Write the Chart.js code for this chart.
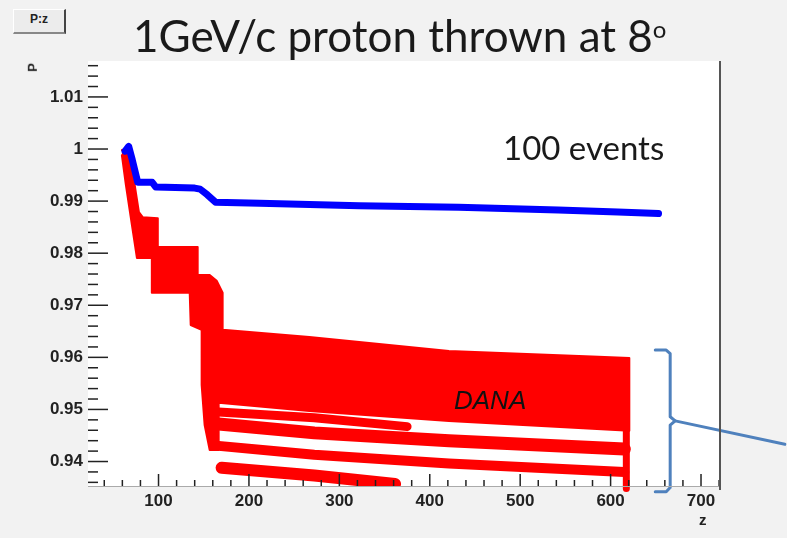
<!DOCTYPE html>
<html>
<head>
<meta charset="utf-8">
<script src="https://cdn.jsdelivr.net/npm/chart.js@4"></script>
<style>
  body { margin: 0; background: #f2f2f2; }
  #wrap { position: relative; width: 787px; height: 538px; overflow: hidden; }
  #c { position: absolute; left: 0; top: 0; }
  .lbl { position: absolute; white-space: nowrap; color: #222; }
  #pz { left: 13px; top: 9px; width: 50px; height: 22px; background: #ececec;
        border-top: 1px solid #fff; border-left: 1px solid #fff;
        border-right: 2px solid #444; border-bottom: 2px solid #888;
        font: bold 12px "Liberation Sans", sans-serif; text-align: center; line-height: 18px; }
  #title { left: 133px; top: 13px; font: 44px Lato, sans-serif; line-height: 44px; color: #1a1a1a; }
  #title span { font-size: 24px; position: relative; top: -14px; }
  #events { left: 503px; top: 131px; font: 33px Lato, sans-serif; line-height: 33px; color: #1a1a1a; }
  #dana { left: 454px; top: 387px; font: italic 26px "Liberation Sans", sans-serif; line-height: 26px; color: #111; }
  #ptitle { left: 28px; top: 60px; font: bold 13px "Liberation Sans", sans-serif; transform: rotate(-90deg); }
  #ztitle { left: 699px; top: 511px; font: bold 15px "Liberation Sans", sans-serif; }
</style>
</head>
<body>
<div id="wrap">
  <canvas id="c" width="787" height="538"></canvas>
  <div class="lbl" id="pz">P:z</div>
  <div class="lbl" id="title">1GeV/c proton thrown at 8<span>o</span></div>
  <div class="lbl" id="events">100 events</div>
  <div class="lbl" id="dana">DANA</div>
  <div class="lbl" id="ptitle">P</div>
  <div class="lbl" id="ztitle">z</div>
</div>
<script>
// ejes
const xTicks = [100, 200, 300, 400, 500, 600, 700];
const yTicks = [0.94, 0.95, 0.96, 0.97, 0.98, 0.99, 1.0, 1.01];
const yTickLabels = ['0.94', '0.95', '0.96', '0.97', '0.98', '0.99', '1', '1.01'];

// proton perdido por GEANT (azul)
const blueZ = [63, 67, 71, 77, 93, 97, 140, 146, 154, 163, 212, 322, 432, 542, 608, 653];
const blueP = [0.9996, 1.0005, 0.9979, 0.9936, 0.9936, 0.9927, 0.9925, 0.9923, 0.9912, 0.9898, 0.9896, 0.9891, 0.9888, 0.9883, 0.9879, 0.9876];

// banda DANA (contorno de las trazas superpuestas)
const bandZ = [59.5, 66.2, 72.8, 78.3, 82.7, 99.2, 99.2, 143.3, 143.3, 156.6, 164.3, 170.9, 170.9, 266.8, 421.2, 586.5, 620.7,
               620.7, 421.2, 266.8, 166.5, 166.5, 156.6, 151.0, 147.7, 147.7, 135.6, 134.5, 92.6, 92.6, 76.1, 70.6, 63.9, 59.5];
const bandP = [0.9998, 1.0000, 0.9940, 0.9879, 0.9869, 0.9867, 0.9812, 0.9812, 0.9758, 0.9758, 0.9747, 0.9724, 0.9653, 0.9639, 0.9612, 0.9601, 0.9599,
               0.9459, 0.9478, 0.9497, 0.9513, 0.9422, 0.9422, 0.9470, 0.9547, 0.9653, 0.9662, 0.9724, 0.9724, 0.9791, 0.9791, 0.9854, 0.9931, 0.9988];

// trazas DANA sueltas
const trackAZ = [166.5, 272.3, 374.9];
const trackAP = [0.9495, 0.9484, 0.9467];
const trackBZ = [166.5, 272.3, 421.2, 615.2];
const trackBP = [0.9472, 0.9455, 0.9440, 0.9424];
const trackCZ = [166.5, 272.3, 421.2, 615.2];
const trackCP = [0.9430, 0.9413, 0.9396, 0.9380];
const trackDZ = [169.8, 272.3, 361.6];
const trackDP = [0.9388, 0.9373, 0.9357];
const spikeZ = [617.4, 617.4];
const spikeP = [0.9470, 0.9348];

// corchete azul
const bracketZ = [649.4, 661.5, 665.9, 665.9, 671.4, 665.9, 665.9, 661.5, 649.4];
const bracketP = [0.9614, 0.9614, 0.9607, 0.9486, 0.9478, 0.9470, 0.9350, 0.9342, 0.9342];
const pointerZ = [671.4, 792.7];
const pointerP = [0.9478, 0.9433];

const pts = (zs, ps) => zs.map((z, i) => ({ x: z, y: ps[i] }));

const traza = (zs, ps, color, width, order, extra) => Object.assign({
    data: pts(zs, ps),
    showLine: true,
    borderColor: color,
    borderWidth: width,
    pointRadius: 0,
    borderCapStyle: 'round',
    borderJoinStyle: 'round',
    fill: false,
    order: order
}, extra || {});

const rojo = '#ff0000';
const azul = '#0000ff';
const azulCorchete = '#4f81bd';

const fondoBlanco = {
    id: 'fondoBlanco',
    beforeDraw(chart) {
        const { ctx, chartArea: a } = chart;
        ctx.save();
        ctx.fillStyle = '#ffffff';
        ctx.fillRect(a.left, a.top, a.right - a.left, a.bottom - a.top);
        ctx.restore();
    }
};

// marcas de eje estilo ROOT (hacia dentro)
const marcasRoot = {
    id: 'marcasRoot',
    afterDraw(chart) {
        const { ctx, chartArea: a, scales: { x, y } } = chart;
        ctx.save();
        ctx.strokeStyle = '#aaaaaa';
        ctx.lineWidth = 1;
        ctx.beginPath();
        ctx.moveTo(a.left, a.bottom + 0.5);
        ctx.lineTo(a.right, a.bottom + 0.5);
        ctx.stroke();

        ctx.strokeStyle = '#222';
        ctx.lineWidth = 1.5;
        for (let v = 40; v <= 720; v += 20) {
            const px = x.getPixelForValue(v);
            if (px < a.left || px > a.right) continue;
            const len = v % 100 === 0 ? 12 : 6;
            ctx.beginPath();
            ctx.moveTo(px, a.bottom);
            ctx.lineTo(px, a.bottom - len);
            ctx.stroke();
        }
        for (let i = 468; i <= 508; i++) {
            const py = y.getPixelForValue(i / 500);
            if (py < a.top || py > a.bottom) continue;
            const len = i % 5 === 0 ? 20 : 10;
            ctx.beginPath();
            ctx.moveTo(a.left, py);
            ctx.lineTo(a.left + len, py);
            ctx.stroke();
        }
        ctx.strokeStyle = '#555';
        ctx.lineWidth = 2;
        ctx.beginPath();
        ctx.moveTo(a.right, a.top);
        ctx.lineTo(a.right, a.bottom + 4);
        ctx.stroke();
        ctx.restore();
    }
};

const ctx = document.getElementById('c').getContext('2d');
new Chart(ctx, {
    type: 'scatter',
    data: {
        datasets: [
            traza(blueZ, blueP, azul, 7, 0),
            traza(bracketZ, bracketP, azulCorchete, 3, 1, { clip: false }),
            traza(pointerZ, pointerP, azulCorchete, 3, 1, { clip: false }),
            traza(bandZ, bandP, rojo, 2, 3, { fill: 'shape', backgroundColor: rojo }),
            traza(trackAZ, trackAP, rojo, 9, 2),
            traza(trackBZ, trackBP, rojo, 13, 2),
            traza(trackCZ, trackCP, rojo, 10, 2),
            traza(trackDZ, trackDP, rojo, 12, 2),
            traza(spikeZ, spikeP, rojo, 7, 2, { clip: false })
        ]
    },
    options: {
        responsive: false,
        animation: false,
        layout: { padding: { top: 61, right: 67, left: 0, bottom: 0 } },
        plugins: { legend: { display: false }, tooltip: { enabled: false }, title: { display: false } },
        scales: {
            x: {
                type: 'linear',
                min: 22,
                max: 721,
                afterFit: s => { s.height = 52; },
                afterBuildTicks: s => { s.ticks = xTicks.map(v => ({ value: v })); },
                grid: { display: false, drawTicks: false },
                border: { display: false },
                ticks: {
                    padding: 5,
                    color: '#222',
                    font: { family: 'Liberation Sans', size: 17, weight: 'bold' },
                    callback: v => String(v)
                }
            },
            y: {
                type: 'linear',
                min: 0.9353,
                max: 1.0169,
                afterFit: s => { s.width = 88; },
                afterBuildTicks: s => { s.ticks = yTicks.map(v => ({ value: v })); },
                grid: { display: false, drawTicks: false },
                border: { display: false },
                ticks: {
                    padding: 5,
                    color: '#222',
                    font: { family: 'Liberation Sans', size: 17, weight: 'bold' },
                    callback: (v, i) => yTickLabels[i]
                }
            }
        }
    },
    plugins: [fondoBlanco, marcasRoot]
});
</script>
</body>
</html>
